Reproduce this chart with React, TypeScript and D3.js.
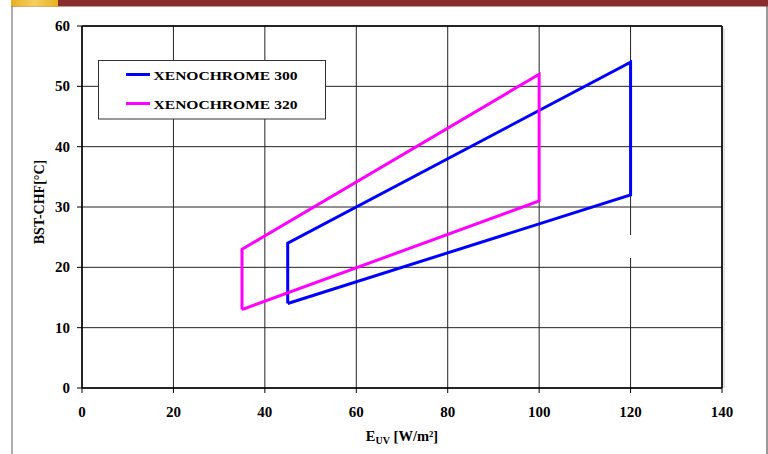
import React from "react";
import * as d3 from "d3";

const seriesNames = ["XENOCHROME 300", "XENOCHROME 320"];
const seriesColors = ["#0000FF", "#FF00FF"];
const x300 = [45, 45, 120, 120, 45];
const y300 = [14, 24, 54, 32, 14];
const x320 = [35, 35, 100, 100, 35];
const y320 = [13, 23, 52, 31, 13];
const xTicks = [0, 20, 40, 60, 80, 100, 120, 140];
const yTicks = [0, 10, 20, 30, 40, 50, 60];

const W = 768;
const H = 454;
const FONT = "'Liberation Serif', 'Times New Roman', serif";

export default function App() {
  const xs = d3.scaleLinear().domain([0, 140]).range([82, 722]);
  const ys = d3.scaleLinear().domain([0, 60]).range([388, 26]);
  const line = d3
    .line<[number, number]>()
    .x((d) => xs(d[0]))
    .y((d) => ys(d[1]));
  const series = [
    x300.map((v, i) => [v, y300[i]] as [number, number]),
    x320.map((v, i) => [v, y320[i]] as [number, number]),
  ];

  return (
    <svg
      width={W}
      height={H}
      style={{ position: "absolute", left: 0, top: 0, display: "block" }}
    >
      <defs>
        <linearGradient id="yel" x1="0" x2="1" y1="0" y2="0">
          <stop offset="0" stopColor="#E8B020" />
          <stop offset="0.5" stopColor="#F5D060" />
          <stop offset="1" stopColor="#E8B020" />
        </linearGradient>
      </defs>
      <rect x={0} y={0} width={W} height={H} fill="#fff" />
      {/* top band */}
      <rect x={11} y={0} width={W - 11} height={6.5} fill="#8A2D2D" />
      <rect x={11} y={0} width={47} height={6.5} fill="url(#yel)" />
      {/* page frame lines */}
      <line x1={12} x2={12} y1={6} y2={H} stroke="#777" strokeWidth={1.2} />
      <line x1={767} x2={767} y1={6} y2={H} stroke="#555" strokeWidth={1.2} />

      {/* grid */}
      {xTicks.map((t) => (
        <line
          key={"gx" + t}
          x1={xs(t)}
          x2={xs(t)}
          y1={ys(60)}
          y2={ys(0)}
          stroke="#222"
          strokeWidth={1}
        />
      ))}
      {yTicks.map((t) => (
        <line
          key={"gy" + t}
          x1={xs(0)}
          x2={xs(140)}
          y1={ys(t)}
          y2={ys(t)}
          stroke="#222"
          strokeWidth={1}
        />
      ))}
      {/* white gap artifact on 120 gridline */}
      <rect x={xs(120) - 2} y={235} width={4} height={23} fill="#fff" />
      {/* border shadow */}
      <line x1={xs(140) + 2} x2={xs(140) + 2} y1={ys(60) + 2} y2={ys(0)} stroke="#ccc" strokeWidth={1} />
      {/* axes */}
      <line x1={xs(0)} x2={xs(0)} y1={ys(60)} y2={ys(0)} stroke="#000" strokeWidth={1.5} />
      <line x1={xs(0)} x2={xs(140)} y1={ys(0)} y2={ys(0)} stroke="#000" strokeWidth={1.5} />
      <line x1={xs(0)} x2={xs(140)} y1={ys(60)} y2={ys(60)} stroke="#000" strokeWidth={1.5} />
      <line x1={xs(140)} x2={xs(140)} y1={ys(60)} y2={ys(0)} stroke="#000" strokeWidth={1.5} />
      {/* ticks */}
      {yTicks.map((t) => (
        <line key={"ty" + t} x1={xs(0) - 5} x2={xs(0)} y1={ys(t)} y2={ys(t)} stroke="#000" strokeWidth={1} />
      ))}
      {xTicks.map((t) => (
        <line key={"tx" + t} x1={xs(t)} x2={xs(t)} y1={ys(0)} y2={ys(0) + 5} stroke="#000" strokeWidth={1} />
      ))}
      {/* tick labels */}
      {yTicks.map((t) => (
        <text
          key={"ly" + t}
          x={70}
          y={ys(t) + 5}
          textAnchor="end"
          fontFamily={FONT}
          fontWeight="bold"
          fontSize={15}
          fill="#000"
        >
          {t}
        </text>
      ))}
      {xTicks.map((t) => (
        <text
          key={"lx" + t}
          x={xs(t)}
          y={417}
          textAnchor="middle"
          fontFamily={FONT}
          fontWeight="bold"
          fontSize={15}
          fill="#000"
        >
          {t}
        </text>
      ))}
      {/* axis titles */}
      <text
        x={402}
        y={441}
        textAnchor="middle"
        fontFamily={FONT}
        fontWeight="bold"
        fontSize={14.5}
        fill="#000"
      >
        E<tspan fontSize={10} dy={3}>UV</tspan>
        <tspan dy={-3}> [W/m²]</tspan>
      </text>
      <text
        transform="translate(44,202) rotate(-90)"
        textAnchor="middle"
        fontFamily={FONT}
        fontWeight="bold"
        fontSize={14}
        fill="#000"
      >
        BST-CHF[°C]
      </text>

      {/* series */}
      {series.map((s, i) => (
        <path
          key={"s" + i}
          d={line(s) || ""}
          fill="none"
          stroke={seriesColors[i]}
          strokeWidth={3}
          strokeLinejoin="miter"
        />
      ))}

      {/* legend */}
      <rect x={98.5} y={60.5} width={227} height={58.5} fill="#fff" stroke="#333" strokeWidth={1} />
      {seriesNames.map((n, i) => (
        <g key={"lg" + i}>
          <line
            x1={126}
            x2={150}
            y1={74.5 + i * 29}
            y2={74.5 + i * 29}
            stroke={seriesColors[i]}
            strokeWidth={3}
          />
          <text
            x={153.5}
            y={79.5 + i * 29}
            fontFamily={FONT}
            fontWeight="bold"
            fontSize={13.5}
            textLength={144}
            lengthAdjust="spacingAndGlyphs"
            fill="#000"
          >
            {n}
          </text>
        </g>
      ))}
    </svg>
  );
}
